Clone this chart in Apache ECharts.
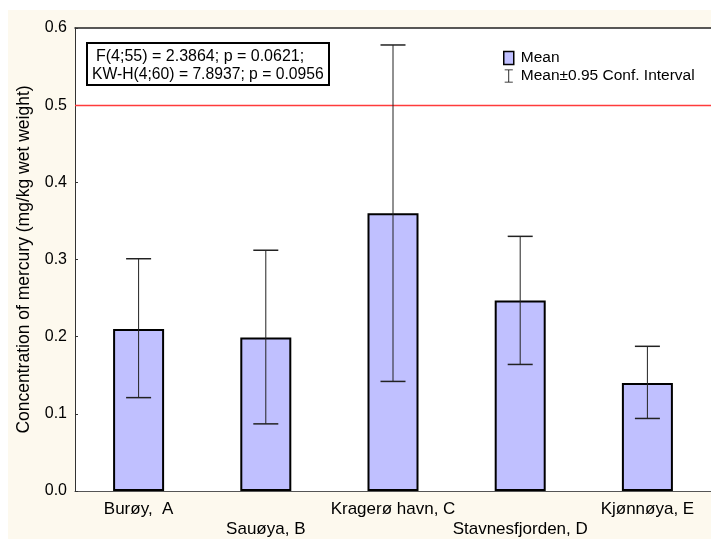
<!DOCTYPE html>
<html>
<head>
<meta charset="utf-8">
<script src="https://cdn.jsdelivr.net/npm/echarts@6/dist/echarts.min.js"></script>
<style>
html,body{margin:0;padding:0;background:#fff;}
#chart{width:711px;height:539px;}
</style>
</head>
<body>
<div id="chart"></div>
<script>
var categories = ['Burøy,  A', 'Sauøya, B', 'Kragerø havn, C', 'Stavnesfjorden, D', 'Kjønnøya, E'];
var means = [0.210, 0.199, 0.360, 0.247, 0.140];
var ciUpper = [0.301, 0.312, 0.578, 0.330, 0.1875];
var ciLower = [0.121, 0.087, 0.142, 0.164, 0.094];
var yTicks = [0, 0.1, 0.2, 0.3, 0.4, 0.5, 0.6];
var refLine = 0.5;
var statLines = ['F(4;55) = 2.3864; p = 0.0621;', 'KW-H(4;60) = 7.8937; p = 0.0956'];

var FONT = '"Liberation Sans", Arial, sans-serif';
var chart = echarts.init(document.getElementById('chart'), null, {renderer: 'canvas'});

var errData = categories.map(function (c, i) { return [i, ciLower[i], ciUpper[i]]; });

var option = {
  animation: false,
  textStyle: {fontFamily: FONT},
  graphic: [
    {type: 'rect', z: -10, silent: true, shape: {x: 8, y: 10, width: 703, height: 529}, style: {fill: '#fdf9ee'}},
    {type: 'rect', z: 10, shape: {x: 87, y: 43, width: 242, height: 42}, style: {fill: '#fff', stroke: '#000', lineWidth: 2}},
    {type: 'text', z: 11, left: 96, top: 49, style: {text: statLines[0], font: '16px ' + FONT, fill: '#000'}},
    {type: 'text', z: 11, left: 92, top: 67, style: {text: statLines[1], font: '15.7px ' + FONT, fill: '#000'}}
  ],
  grid: {left: 75, right: 0, top: 28, bottom: 47, show: true, backgroundColor: '#fff', borderWidth: 0},
  legend: {
    orient: 'vertical', left: 503, top: 50, padding: 0, itemGap: 2, itemWidth: 10, itemHeight: 13,
    textStyle: {fontSize: 15.5, lineHeight: 16, color: '#000', fontFamily: FONT, padding: [0, 0, 0, 2]},
    data: [
      {name: 'Mean', icon: 'rect', itemStyle: {color: '#c0c0ff', borderColor: '#000', borderWidth: 1.5}},
      {name: 'Mean±0.95 Conf. Interval', icon: 'path://M0,0h10v1h-10z M4.5,0h1v16h-1z M0,15h10v1h-10z', itemStyle: {color: '#000', borderWidth: 0}}
    ]
  },
  xAxis: [{
    type: 'category', data: categories,
    axisLine: {lineStyle: {color: '#555', width: 1}},
    axisTick: {inside: true, alignWithLabel: true, length: 3, lineStyle: {color: '#333'}},
    axisLabel: {
      fontSize: 17, color: '#000', margin: 8, lineHeight: 20, interval: 0, fontFamily: FONT,
      formatter: function (v, i) { return i % 2 ? '\n' + v : v; }
    }
  }, {
    type: 'category', data: categories, position: 'top',
    axisLine: {show: true, lineStyle: {color: '#222', width: 1.5}},
    axisTick: {show: false}, axisLabel: {show: false}
  }],
  yAxis: {
    type: 'value', min: yTicks[0], max: yTicks[yTicks.length - 1], interval: 0.1,
    name: 'Concentration of mercury (mg/kg wet weight)', nameLocation: 'middle', nameGap: 42,
    nameTextStyle: {fontSize: 17.5, color: '#000', fontFamily: FONT},
    axisLine: {show: true, lineStyle: {color: '#333', width: 1}},
    axisTick: {show: true, inside: true, length: 3, lineStyle: {color: '#333'}},
    axisLabel: {fontSize: 16, color: '#000', margin: 8, formatter: function (v) { return v.toFixed(1); }},
    splitLine: {show: false}
  },
  series: [{
    name: 'Mean', type: 'bar', data: means, barWidth: 51,
    itemStyle: {color: '#c0c0ff', borderColor: '#000', borderWidth: 2}
  }, {
    name: 'ref', type: 'custom', data: [[0, refLine]], z: 1, silent: true,
    renderItem: function (params, api) {
      var cs = params.coordSys;
      var p = api.coord([0, api.value(1)]);
      var y = Math.round(p[1]) + 0.5;
      return {type: 'line', shape: {x1: cs.x, y1: y, x2: cs.x + cs.width, y2: y},
        style: {stroke: '#ff3b3b', lineWidth: 1.3}};
    }
  }, {
    name: 'Mean±0.95 Conf. Interval', type: 'custom', data: errData, z: 5,
    renderItem: function (params, api) {
      var x = api.value(0);
      var lo = api.coord([x, api.value(1)]);
      var hi = api.coord([x, api.value(2)]);
      var hw = 12.5;
      var st = {stroke: '#222', lineWidth: 1};
      return {type: 'group', children: [
        {type: 'line', shape: {x1: lo[0], y1: lo[1], x2: hi[0], y2: hi[1]}, style: st},
        {type: 'line', shape: {x1: hi[0] - hw, y1: hi[1], x2: hi[0] + hw, y2: hi[1]}, style: {stroke: '#222', lineWidth: 1.5}},
        {type: 'line', shape: {x1: lo[0] - hw, y1: lo[1], x2: lo[0] + hw, y2: lo[1]}, style: {stroke: '#222', lineWidth: 1.5}}
      ]};
    }
  }]
};
chart.setOption(option);
</script>
</body>
</html>
